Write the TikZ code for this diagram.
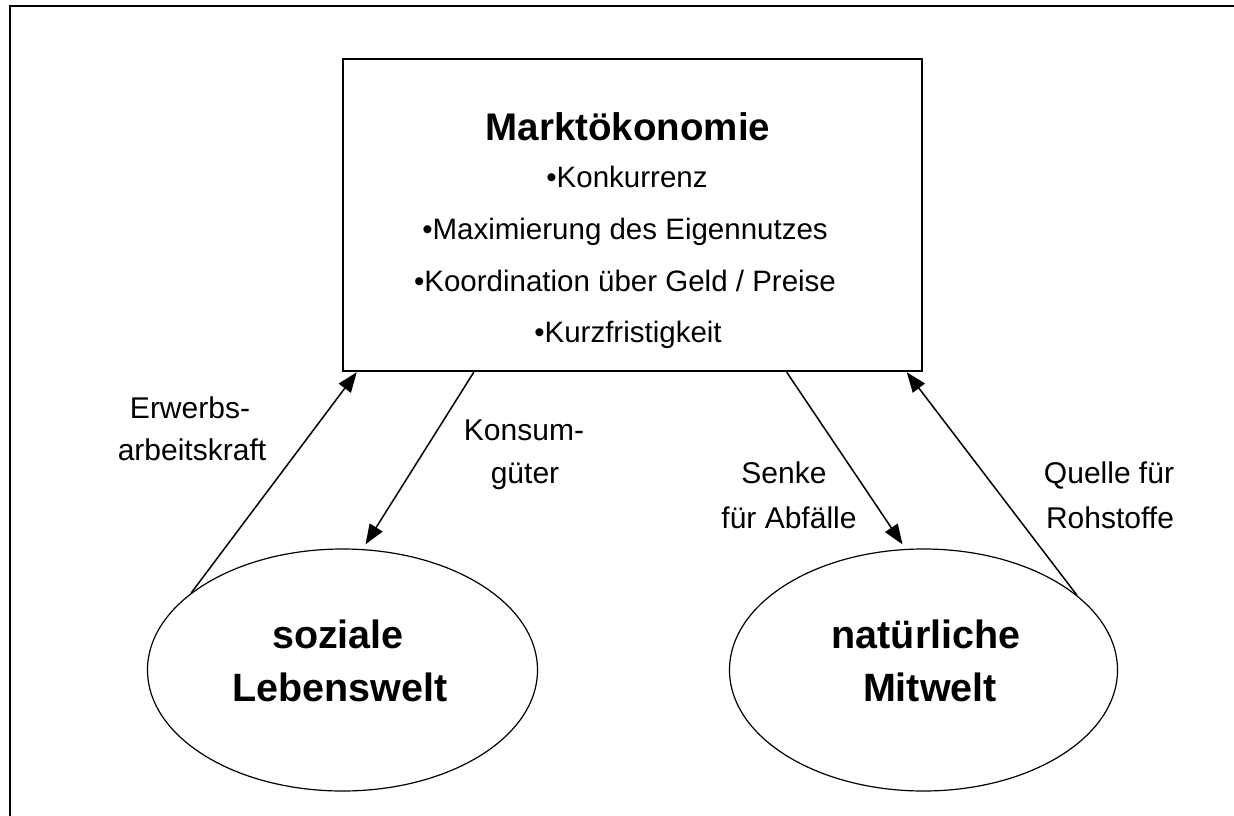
\documentclass[tikz,border=0pt]{standalone}
\usepackage{fontspec}
\setmainfont{Liberation Sans}
\usetikzlibrary{shapes.geometric,arrows.meta}
\tikzset{
  boxstyle/.style={draw, line width=2.5pt, inner sep=0pt, minimum width=579pt, minimum height=312pt},
  ellstyle/.style={draw, ellipse, line width=1.2pt, inner sep=0pt},
  titletext/.style={anchor=base, inner sep=0pt, font=\fontsize{38.5}{44}\selectfont\bfseries},
  bullettext/.style={anchor=base, inner sep=0pt, font=\fontsize{29.5}{34}\selectfont},
  labeltext/.style={anchor=base, inner sep=0pt, font=\fontsize{30}{35}\selectfont},
  elltext/.style={anchor=base, inner sep=0pt, font=\fontsize{39.5}{45}\selectfont\bfseries},
  flow/.style={line width=1.5pt, -{Triangle[length=20pt,width=15pt]}}
}
\begin{document}
\begin{tikzpicture}[x=1pt,y=-1pt]
\useasboundingbox (0,0) rectangle (1234,816);
% outer frame (only top and left edges visible)
\draw[line width=2pt] (10,816) -- (10,6) -- (1234,6);
% main box
\node[boxstyle] (box) at (632.5,215) {};
\node[titletext] (title) at (628,140) {Marktökonomie};
\node[bullettext] (b1) at (627,187) {\textbullet Konkurrenz};
\node[bullettext] (b2) at (625,239) {\textbullet Maximierung des Eigennutzes};
\node[bullettext] (b3) at (625,291) {\textbullet Koordination über Geld / Preise};
\node[bullettext] (b4) at (628,342) {\textbullet Kurzfristigkeit};
% ellipses
\node[ellstyle, minimum width=390pt, minimum height=242pt] (sl) at (342.5,670) {};
\node[ellstyle, minimum width=388pt, minimum height=242pt] (nm) at (923.5,670) {};
\node[elltext] (sl1) at (338,648) {soziale};
\node[elltext] (sl2) at (340,701) {Lebenswelt};
\node[elltext] (nm1) at (926,648) {natürliche};
\node[elltext] (nm2) at (930,701) {Mitwelt};
% connectors
\draw[flow] (sl.153.3) -- ([xshift=15pt]box.south west);
\draw[flow] ([xshift=132pt]box.south west) -- ([shift={(23pt,4pt)}]sl.north);
\draw[flow] ([xshift=445pt]box.south west) -- ([shift={(-21pt,4pt)}]nm.north);
\draw[flow] (nm.26.6) -- ([xshift=565pt]box.south west);
% labels
\node[labeltext] (l1a) at (190,418) {Erwerbs-};
\node[labeltext] (l1b) at (192,460) {arbeitskraft};
\node[labeltext] (l2a) at (524,440) {Konsum-};
\node[labeltext] (l2b) at (525,483) {güter};
\node[labeltext] (l3a) at (784,483) {Senke};
\node[labeltext] (l3b) at (789,528) {für Abfälle};
\node[labeltext] (l4a) at (1109,483) {Quelle für};
\node[labeltext] (l4b) at (1110,528) {Rohstoffe};
\end{tikzpicture}
\end{document}
